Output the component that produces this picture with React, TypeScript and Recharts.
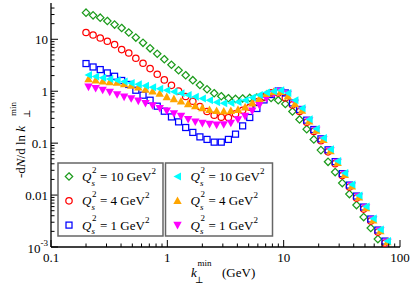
import React from 'react';
import { ScatterChart, Scatter, XAxis, YAxis } from 'recharts';

// k_perp^min grid (GeV) for the open-symbol sets
const kOpen = [0.2, 0.23, 0.265, 0.305, 0.352, 0.405, 0.466, 0.536, 0.618, 0.711, 0.819, 0.942, 1.085, 1.249, 1.438, 1.656, 1.906, 2.194, 2.527, 2.909, 3.349, 3.856, 4.439, 5.111, 5.884, 6.774, 7.799, 8.979, 10.34, 11.9, 13.7, 15.78, 18.16, 20.91, 24.07, 27.72, 31.91, 36.74, 42.3, 48.7, 56.07, 64.55, 74.32];
// k_perp^min grid (GeV) for the filled-symbol sets
const kFilled = [0.21, 0.242, 0.278, 0.32, 0.37, 0.425, 0.489, 0.563, 0.649, 0.747, 0.86, 0.989, 1.139, 1.311, 1.51, 1.739, 2.001, 2.304, 2.653, 3.054, 3.516, 4.049, 4.661, 5.367, 6.178, 7.113, 8.189, 9.428, 10.86, 12.5, 14.39, 16.57, 19.07, 21.96, 25.27, 29.11, 33.51, 38.58, 44.42, 51.14, 58.87, 67.78, 78.04];

const green10 = [32.6, 28.9, 26.1, 22.5, 19.2, 16.5, 13.5, 10.8, 8.56, 6.71, 5.26, 4.13, 3.23, 2.53, 2.03, 1.63, 1.32, 1.09, 0.915, 0.8, 0.733, 0.711, 0.724, 0.743, 0.756, 0.767, 0.743, 0.671, 0.57, 0.407, 0.286, 0.186, 0.118, 0.0734, 0.0437, 0.0277, 0.017, 0.01045, 0.00642, 0.00377, 0.00232, 0.00142];
const red4 = [13.5, 12.1, 10.6, 9.15, 7.91, 6.34, 5.45, 4.31, 3.46, 2.73, 2.12, 1.65, 1.3, 1.01, 0.791, 0.642, 0.508, 0.407, 0.345, 0.316, 0.312, 0.366, 0.431, 0.492, 0.622, 0.777, 0.927, 0.927, 0.743, 0.545, 0.407, 0.253, 0.168, 0.111, 0.068, 0.0403, 0.0237, 0.01425, 0.00876, 0.00538, 0.00316, 0.00194, 0.00119];
const blue1 = [3.41, 2.93, 2.61, 2.25, 1.94, 1.61, 1.35, 1.045, 0.838, 0.671, 0.515, 0.412, 0.32, 0.257, 0.2, 0.161, 0.132, 0.118, 0.1045, 0.1045, 0.118, 0.149, 0.215, 0.312, 0.465, 0.68, 0.864, 1.01, 0.927, 0.596, 0.445, 0.277, 0.183, 0.121, 0.0743, 0.0441, 0.0259, 0.01557, 0.00957, 0.00588, 0.00346, 0.00212, 0.0013];
const cyan10 = [2.06, 1.93, 1.82, 1.72, 1.63, 1.54, 1.44, 1.36, 1.28, 1.19, 1.12, 1.045, 0.978, 0.915, 0.849, 0.784, 0.724, 0.671, 0.615, 0.588, 0.596, 0.622, 0.671, 0.756, 0.849, 0.944, 1.0, 1.045, 0.927, 0.671, 0.471, 0.289, 0.19, 0.125, 0.0767, 0.0451, 0.0265, 0.0159, 0.00978, 0.00601, 0.00353, 0.00217, 0.0013];
const orange4 = [1.72, 1.63, 1.56, 1.51, 1.47, 1.38, 1.29, 1.19, 1.08, 1.0, 0.903, 0.777, 0.711, 0.642, 0.57, 0.522, 0.477, 0.441, 0.422, 0.412, 0.422, 0.443, 0.494, 0.59, 0.721, 0.895, 0.978, 0.978, 0.8, 0.57, 0.425, 0.265, 0.175, 0.116, 0.0711, 0.0422, 0.0248, 0.0149, 0.00915, 0.00562, 0.0033, 0.00203, 0.00125];
const magenta1 = [1.21, 1.14, 1.055, 0.969, 0.864, 0.777, 0.724, 0.651, 0.588, 0.531, 0.471, 0.418, 0.373, 0.331, 0.289, 0.259, 0.2425, 0.232, 0.225, 0.229, 0.2445, 0.286, 0.331, 0.418, 0.538, 0.724, 0.903, 1.0, 0.887, 0.601, 0.441, 0.271, 0.178, 0.117, 0.0718, 0.0431, 0.0253, 0.0152, 0.00936, 0.00575, 0.00338, 0.00208, 0.00125];

const xTicks = [0.1, 0.2, 0.3, 0.4, 0.5, 0.6, 0.7, 0.8, 0.9, 1, 2, 3, 4, 5, 6, 7, 8, 9, 10, 20, 30, 40, 50, 60, 70, 80, 90, 100];
const yTicks = [0.001, 0.002, 0.003, 0.004, 0.005, 0.006, 0.007, 0.008, 0.009, 0.01, 0.02, 0.03, 0.04, 0.05, 0.06, 0.07, 0.08, 0.09, 0.1, 0.2, 0.3, 0.4, 0.5, 0.6, 0.7, 0.8, 0.9, 1, 2, 3, 4, 5, 6, 7, 8, 9, 10, 20, 30, 40];
const xMajor = [0.1, 1, 10, 100];
const xMajorLabels = ['0.1', '1', '10', '100'];
const yMajor = [0.001, 0.01, 0.1, 1, 10];
const yMajorLabels = ['10|-3', '0.01', '0.1', '1', '10'];

const legendLeft = [
  { q: '10', color: '#1c9b1c', shape: 'diamond' },
  { q: '4', color: '#ff0000', shape: 'circle' },
  { q: '1', color: '#0000ff', shape: 'square' },
];
const legendRight = [
  { q: '10', color: '#00ffff', shape: 'left' },
  { q: '4', color: '#ffa500', shape: 'up' },
  { q: '1', color: '#ff00ff', shape: 'down' },
];

const FONT = '"Liberation Serif", "Times New Roman", "DejaVu Serif", serif';

const mk = (ks: number[], vs: number[]) => vs.map((v, i) => ({ k: ks[i], v }));

const Marker = ({ cx, cy, shape, color }: any) => {
  if (cx == null || cy == null) return null;
  const sw = 1.25;
  switch (shape) {
    case 'diamond':
      return <path d={`M${cx},${cy - 3.7}L${cx + 3.7},${cy}L${cx},${cy + 3.7}L${cx - 3.7},${cy}Z`} fill="none" stroke={color} strokeWidth={sw} />;
    case 'circle':
      return <circle cx={cx} cy={cy} r={3.2} fill="none" stroke={color} strokeWidth={sw} />;
    case 'square':
      return <rect x={cx - 3} y={cy - 3} width={6} height={6} fill="none" stroke={color} strokeWidth={sw} />;
    case 'left':
      return <path d={`M${cx - 4},${cy}L${cx + 3.5},${cy - 4}L${cx + 3.5},${cy + 4}Z`} fill={color} />;
    case 'up':
      return <path d={`M${cx},${cy - 4.3}L${cx + 4.2},${cy + 3.3}L${cx - 4.2},${cy + 3.3}Z`} fill={color} />;
    case 'down':
      return <path d={`M${cx},${cy + 4.3}L${cx + 4.2},${cy - 3.3}L${cx - 4.2},${cy - 3.3}Z`} fill={color} />;
    default:
      return null;
  }
};

const isMajor = (v: number) => Math.abs(Math.log10(v) - Math.round(Math.log10(v))) < 1e-6;
const findIdx = (arr: number[], v: number) => arr.findIndex((a) => Math.abs(a - v) / a < 1e-6);

const BottomTick = (p: any) => {
  const { x, y, payload } = p;
  const v = payload.value;
  const maj = isMajor(v);
  const i = findIdx(xMajor, v);
  return (
    <g>
      <line x1={x} x2={x} y1={y} y2={y - (maj ? 7 : 3.5)} stroke="#000" strokeWidth={1} />
      {maj && i >= 0 && (
        <text x={x} y={y + 14.5} textAnchor="middle" fontFamily={FONT} fontSize={13} fill="#000">
          {xMajorLabels[i]}
        </text>
      )}
    </g>
  );
};
const TopTick = (p: any) => {
  const { x, y, payload } = p;
  const maj = isMajor(payload.value);
  return <line x1={x} x2={x} y1={y} y2={y + (maj ? 7 : 3.5)} stroke="#000" strokeWidth={1} />;
};
const LeftTick = (p: any) => {
  const { x, y, payload } = p;
  const v = payload.value;
  const maj = isMajor(v);
  const i = findIdx(yMajor, v);
  let label: any = null;
  if (maj && i >= 0) {
    const s = yMajorLabels[i];
    if (s.includes('|')) {
      const [b, e] = s.split('|');
      label = (
        <text x={x - 3} y={y + 6} textAnchor="end" fontFamily={FONT} fontSize={13} fill="#000">
          {b}
          <tspan dy={-7} fontSize={9}>{e}</tspan>
        </text>
      );
    } else {
      label = (
        <text x={x - 3} y={y + 4.5} textAnchor="end" fontFamily={FONT} fontSize={13} fill="#000">
          {s}
        </text>
      );
    }
  }
  return (
    <g>
      <line x1={x} x2={x + (maj ? 7 : 3.5)} y1={y} y2={y} stroke="#000" strokeWidth={1} />
      {label}
    </g>
  );
};
const RightTick = (p: any) => {
  const { x, y, payload } = p;
  const maj = isMajor(payload.value);
  return <line x1={x} x2={x - (maj ? 7 : 3.5)} y1={y} y2={y} stroke="#000" strokeWidth={1} />;
};

const LegendRow = ({ mx, my, item }: any) => (
  <g>
    <Marker cx={mx} cy={my} shape={item.shape} color={item.color} />
    <text x={mx + 13} y={my + 4.5} fontFamily={FONT} fontSize={13} fontStyle="italic" fill="#000">Q</text>
    <text x={mx + 22.5} y={my + 9} fontFamily={FONT} fontSize={9} fontStyle="italic" fill="#000">s</text>
    <text x={mx + 23} y={my - 4} fontFamily={FONT} fontSize={9} fill="#000">2</text>
    <text x={mx + 31} y={my + 4.5} fontFamily={FONT} fontSize={13} fill="#000">
      {`= ${item.q} GeV`}
      <tspan dy={-7} fontSize={9}>2</tspan>
    </text>
  </g>
);

const series = [
  { name: 'green', ks: kOpen, vs: green10, shape: 'diamond', color: '#1c9b1c' },
  { name: 'red', ks: kOpen, vs: red4, shape: 'circle', color: '#ff0000' },
  { name: 'blue', ks: kOpen, vs: blue1, shape: 'square', color: '#0000ff' },
  { name: 'magenta', ks: kFilled, vs: magenta1, shape: 'down', color: '#ff00ff' },
  { name: 'orange', ks: kFilled, vs: orange4, shape: 'up', color: '#ffa500' },
  { name: 'cyan', ks: kFilled, vs: cyan10, shape: 'left', color: '#00ffff' },
];

export default function App() {
  const axisLine = { stroke: '#000', strokeWidth: 1.3 };
  return (
    <div style={{ position: 'absolute', left: 0, top: 0, width: 411, height: 286, background: '#fff' }}>
      <ScatterChart width={411} height={286} margin={{ top: 3, right: 11, bottom: 0, left: 0 }}>
        <XAxis xAxisId="b" dataKey="k" type="number" scale="log" domain={[0.1, 100]} allowDataOverflow ticks={xTicks} interval={0}
          height={39} tickSize={0} tickMargin={0} tickLine={false} axisLine={axisLine} tick={(p: any) => <BottomTick {...p} />} />
        <XAxis xAxisId="t" orientation="top" dataKey="k" type="number" scale="log" domain={[0.1, 100]} allowDataOverflow ticks={xTicks} interval={0}
          height={0} tickSize={0} tickMargin={0} tickLine={false} axisLine={axisLine} tick={(p: any) => <TopTick {...p} />} />
        <YAxis yAxisId="l" dataKey="v" type="number" scale="log" domain={[0.001, 50]} allowDataOverflow ticks={yTicks} interval={0}
          width={51} tickSize={0} tickMargin={0} tickLine={false} axisLine={axisLine} tick={(p: any) => <LeftTick {...p} />} />
        <YAxis yAxisId="r" orientation="right" dataKey="v" type="number" scale="log" domain={[0.001, 50]} allowDataOverflow ticks={yTicks} interval={0}
          width={0} tickSize={0} tickMargin={0} tickLine={false} axisLine={axisLine} tick={(p: any) => <RightTick {...p} />} />
        <Scatter xAxisId="t" yAxisId="r" data={[]} isAnimationActive={false} />
        {series.map((s) => (
          <Scatter key={s.name} xAxisId="b" yAxisId="l" data={mk(s.ks, s.vs)} isAnimationActive={false}
            shape={(p: any) => <Marker cx={p.cx} cy={p.cy} shape={s.shape} color={s.color} />} />
        ))}
      </ScatterChart>
      <svg width={411} height={286} style={{ position: 'absolute', left: 0, top: 0, pointerEvents: 'none' }}>
        {/* legend boxes */}
        <rect x={58} y={163} width={105} height={73} fill="#fff" stroke="#666" strokeWidth={1.5} />
        <rect x={165.5} y={163} width={107} height={73} fill="#fff" stroke="#666" strokeWidth={1.5} />
        {legendLeft.map((it, i) => (
          <LegendRow key={'l' + i} mx={69} my={176.5 + i * 24.3} item={it} />
        ))}
        {legendRight.map((it, i) => (
          <LegendRow key={'r' + i} mx={177.5} my={176.5 + i * 24.3} item={it} />
        ))}
        {/* x axis title */}
        <text x={191} y={276.5} fontFamily={FONT} fontSize={13} fontStyle="italic" fill="#000">k</text>
        <text x={197.5} y={266} fontFamily={FONT} fontSize={9} fill="#000">min</text>
        <text x={195} y={283} fontFamily={FONT} fontSize={9} fill="#000">⊥</text>
        <text x={222} y={276.5} fontFamily={FONT} fontSize={13} fill="#000">(GeV)</text>
        {/* y axis title */}
        <g transform="translate(25,178) rotate(-90)">
          <text x={0} y={0} fontFamily={FONT} fontSize={13} fill="#000">
            {'-d'}
            <tspan fontStyle="italic">N</tspan>
            {'/d ln '}
            <tspan fontStyle="italic">k</tspan>
          </text>
          <text x={62} y={-9} fontFamily={FONT} fontSize={9} fill="#000">min</text>
          <text x={60} y={5} fontFamily={FONT} fontSize={9} fill="#000">⊥</text>
        </g>
      </svg>
    </div>
  );
}
